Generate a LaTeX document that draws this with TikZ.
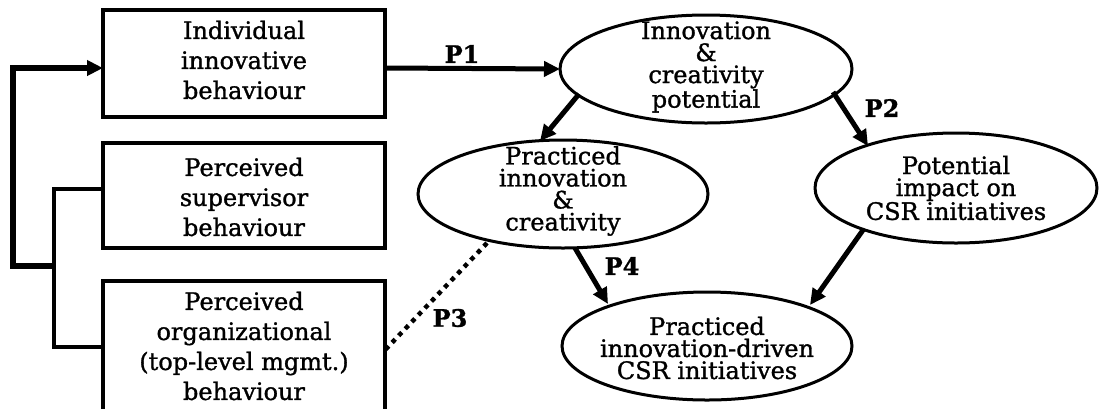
\documentclass[tikz,border=0pt]{standalone}
\usepackage{fontspec}
\setmainfont{DejaVu Serif}[FakeBold=1.2]
\usetikzlibrary{shapes.geometric,arrows.meta}
\begin{document}
\begin{tikzpicture}[x=1pt,y=-1pt,
  boxtext/.style={font=\fontsize{24}{30}\selectfont, align=center},
  elltext/.style={font=\fontsize{24}{22}\selectfont, align=center},
  frame/.style={draw, line width=3.5pt},
  oval/.style={draw, line width=3pt},
  tip/.style={-{Triangle[length=16pt,width=15pt]}},
  thickarrow/.style={line width=5pt, tip},
  thinline/.style={line width=3.3pt},
  plabel/.style={font=\fontsize{24}{22}\selectfont\bfseries}]
\useasboundingbox (0,0) rectangle (1099,408);
\begin{scope}
\clip (0,0) rectangle (1099,408);
% boxes
\draw[frame] (103,10) rectangle (385,117);
\node[boxtext] (b1) at (244,60) {Individual\\innovative\\behaviour};
\coordinate (b1w) at (103,68);
\coordinate (b1e) at (385,68);
\draw[frame] (103,143) rectangle (385,248);
\node[boxtext] (b2) at (244,197) {Perceived\\supervisor\\behaviour};
\coordinate (b2w) at (103,189);
\draw[frame] (103,281) rectangle (385,420);
\node[boxtext] (b3) at (244,346) {Perceived\\organizational\\(top-level mgmt.)\\behaviour};
\coordinate (b3w) at (103,347);
\coordinate (b3e) at (385,350);
% ellipses
\draw[oval] (706,69) ellipse [x radius=146, y radius=54];
\node[elltext] (e1) at (706,67) {Innovation\\\&\\creativity\\potential};
\draw[oval] (563,194) ellipse [x radius=145, y radius=54];
\node[elltext] (e2) at (563,191) {Practiced\\innovation\\\&\\creativity};
\draw[oval] (956,188) ellipse [x radius=141, y radius=55];
\node[elltext] (e3) at (956,188) {Potential\\impact on\\CSR initiatives};
\draw[oval] (707,346) ellipse [x radius=145, y radius=54];
\node[elltext] (e4) at (707,348) {Practiced\\innovation-driven\\CSR initiatives};
% feedback lines
\coordinate (j) at (54,266);
\coordinate (fl) at (13,266);
\coordinate (ft) at (13,68);
\draw[thinline] (b2w) -- (54,189) -- (54,347) -- (b3w);
\draw[line width=6pt, line join=miter, tip] (j) -- (fl) -- (ft) -- (b1w);
% arrows
\coordinate (e1w) at (560,69);
\draw[thickarrow] (b1e) -- (e1w);
\node[plabel] (p1) at (462,54) {P1};
\draw[thickarrow] (579,94) -- (540,141);
\draw[thickarrow] (833,92) -- (868,146);
\node[plabel] (p2) at (882,108) {P2};
\draw[thickarrow] (575,248) -- (608,304);
\node[plabel] (p4) at (622,266) {P4};
\draw[thickarrow] (863,230) -- (810,305);
\draw[line width=4.5pt, dash pattern=on 4.5pt off 5pt] (487,243) -- (b3e);
\node[plabel] (p3) at (450,318) {P3};
\end{scope}
\end{tikzpicture}
\end{document}
